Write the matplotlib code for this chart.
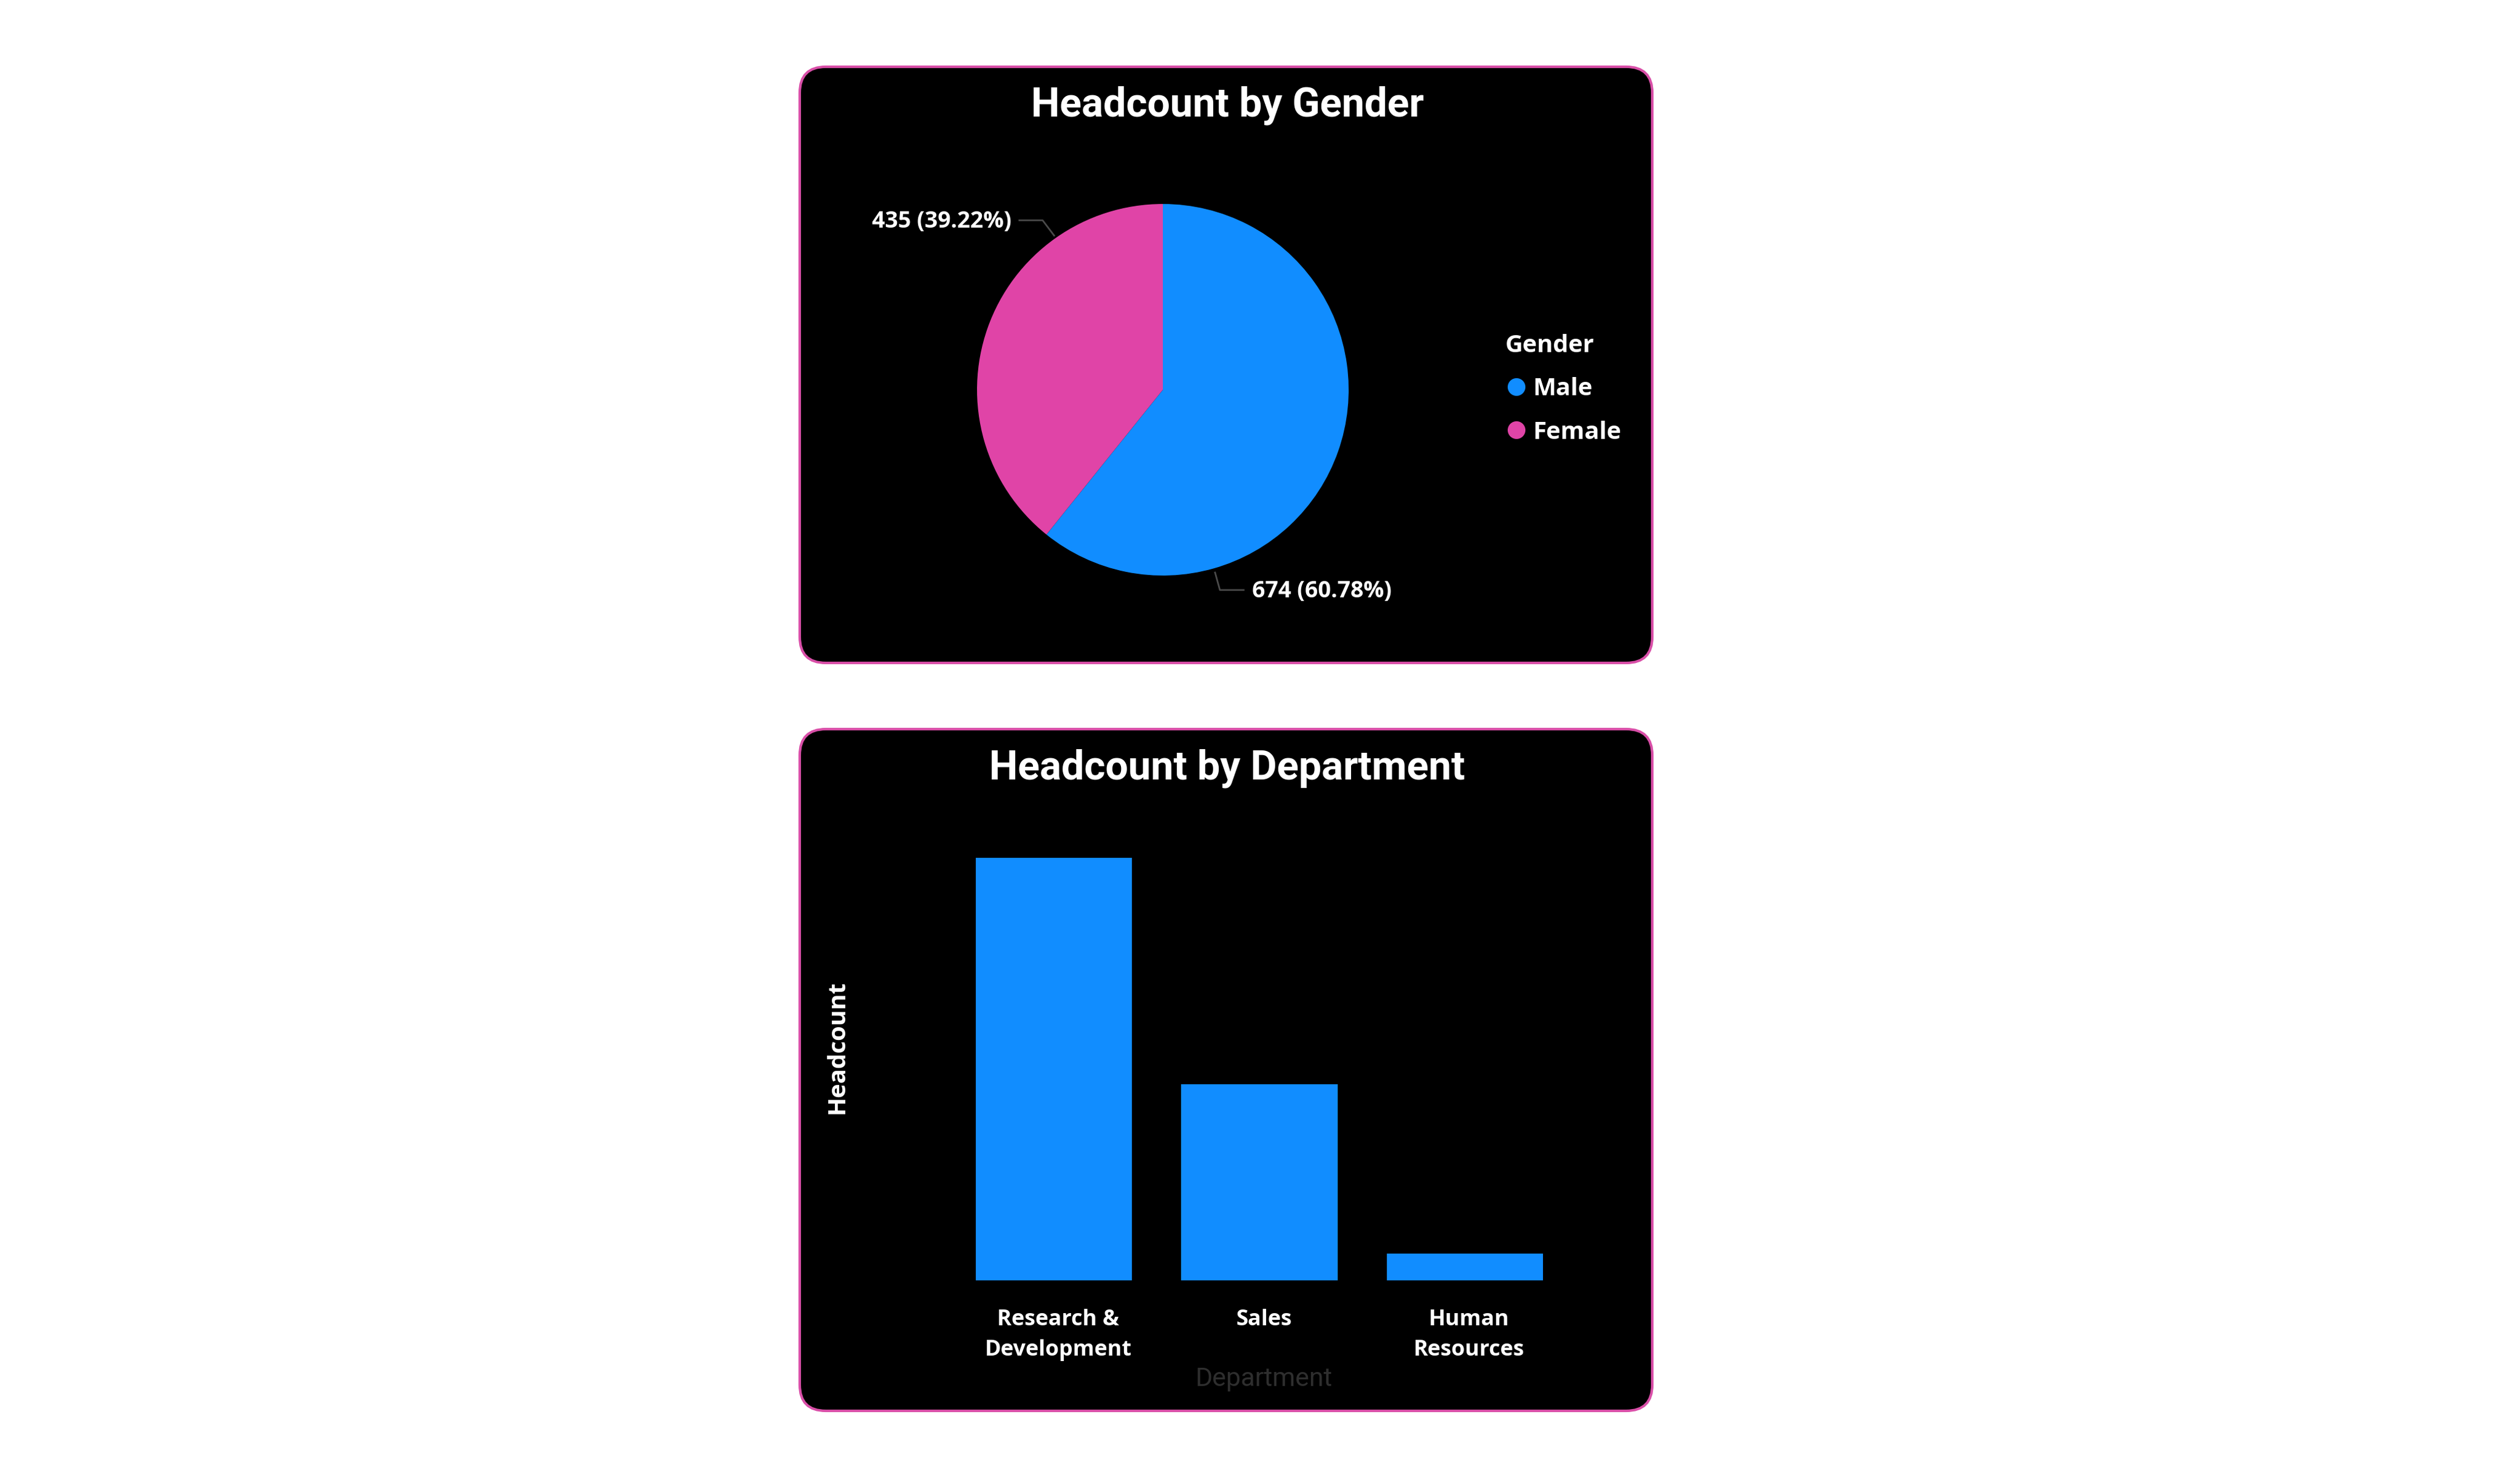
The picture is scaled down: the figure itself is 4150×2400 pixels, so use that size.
import matplotlib
matplotlib.use("Agg")
import matplotlib.pyplot as plt
import matplotlib.transforms as mtransforms
from matplotlib.patches import FancyBboxPatch
from matplotlib.lines import Line2D

# data
genders = ["Male", "Female"]
gender_counts = [674, 435]
gender_colors = ["#118DFF", "#E044A7"]

departments = ["Research &\nDevelopment", "Sales", "Human\nResources"]
dept_counts = [726, 337, 46]
bar_color = "#118DFF"

W, H = 4150, 2400
TITLE_FONT = ["Roboto", "DejaVu Sans"]
BODY_FONT = ["Open Sans", "DejaVu Sans"]
BORDER = "#D94FA8"


def px_rect(l, t, w, h):
    return [l / W, 1 - (t + h) / H, w / W, h / H]


fig = plt.figure(figsize=(W / 100, H / 100), dpi=100, facecolor="white")

# background layer in pixel coords for the two cards
bg = fig.add_axes([0, 0, 1, 1], zorder=-10)
bg.set_xlim(0, W)
bg.set_ylim(H, 0)
bg.axis("off")
for (l, t, r, b) in [(1317, 110, 2721, 1092), (1317, 1201, 2721, 2324)]:
    bg.add_patch(FancyBboxPatch((l, t), r - l, b - t,
                                boxstyle="round,pad=0,rounding_size=43",
                                facecolor="black", edgecolor=BORDER, linewidth=3))

bg.text(2021, 191, "Headcount by Gender", color="white", fontsize=48,
        fontweight="bold", family=TITLE_FONT, ha="center", va="baseline")
bg.text(2021, 1284, "Headcount by Department", color="white", fontsize=48,
        fontweight="bold", family=TITLE_FONT, ha="center", va="baseline")

# ---- pie ----
cx, cy, rad = 1915, 642, 306
pax = fig.add_axes(px_rect(cx - rad, cy - rad, 2 * rad, 2 * rad))
wedges, _ = pax.pie(gender_counts, colors=gender_colors, startangle=90,
                    counterclock=False, radius=1,
                    wedgeprops=dict(linewidth=0))
pax.set_xlim(-1, 1)
pax.set_ylim(-1, 1)
pax.set_aspect("equal")

total = sum(gender_counts)
lbl = [f"{v} ({v / total * 100:.2f}%)" for v in gender_counts]

# leader lines
pax.plot([-0.772, -0.647, -0.585], [0.912, 0.912, 0.830], color="#4A4A4A",
         lw=2, clip_on=False)
pax.plot([0.281, 0.307, 0.435], [-0.984, -1.078, -1.078], color="#4A4A4A",
         lw=2, clip_on=False)
pax.text(-0.815, 0.905, lbl[1], color="white", fontsize=27, fontweight="bold",
         family=BODY_FONT, ha="right", va="center")
pax.text(0.48, -1.085, lbl[0], color="white", fontsize=27, fontweight="bold",
         family=BODY_FONT, ha="left", va="center")

handles = [Line2D([], [], marker="o", linestyle="none", markersize=21,
                  markerfacecolor=c, markeredgewidth=0) for c in gender_colors]
leg = fig.legend(handles, genders, title="Gender", loc="upper left",
                 bbox_to_anchor=(2458 / W, 1 - 530 / H), frameon=False,
                 alignment="left", borderpad=0, handlelength=0.95,
                 handletextpad=0.2, labelspacing=0.8,
                 prop=dict(family=BODY_FONT, weight="bold", size=29),
                 title_fontproperties=dict(family=BODY_FONT, weight="bold", size=29))
for t in leg.get_texts():
    t.set_color("white")
leg.get_title().set_color("white")

# ---- bars ----
ax_l, ax_r, ax_t, ax_b = 1480, 2660, 1380, 2109
bax = fig.add_axes(px_rect(ax_l, ax_t, ax_r - ax_l, ax_b - ax_t))
bax.set_facecolor("none")
x = range(len(departments))
bax.bar(x, dept_counts, width=0.76, color=bar_color)
bax.set_xlim(-0.755, 2.731)
bax.set_ylim(0, 760)
for s in bax.spines.values():
    s.set_visible(False)
bax.set_yticks([])
bax.set_xticks(list(x))
bax.set_xticklabels(departments, color="white", fontsize=26, fontweight="bold",
                    family=BODY_FONT, linespacing=1.5)
bax.tick_params(axis="x", length=0, pad=34)
shift = mtransforms.ScaledTranslation(0.07, 0, fig.dpi_scale_trans)
for lab in bax.get_xticklabels():
    lab.set_transform(lab.get_transform() + shift)
bax.set_ylabel("Headcount", color="white", fontsize=29, fontweight="bold",
               family=BODY_FONT)
bax.yaxis.set_label_coords((1398 - ax_l) / (ax_r - ax_l), 0.527)
bax.set_xlabel("Department", color="#2E2E2E", fontsize=31, family=TITLE_FONT)
bax.xaxis.set_label_coords((2081 - ax_l) / (ax_r - ax_l), -(2251 - ax_b) / (ax_b - ax_t))

fig.savefig("out.png", dpi=100, facecolor="white")
